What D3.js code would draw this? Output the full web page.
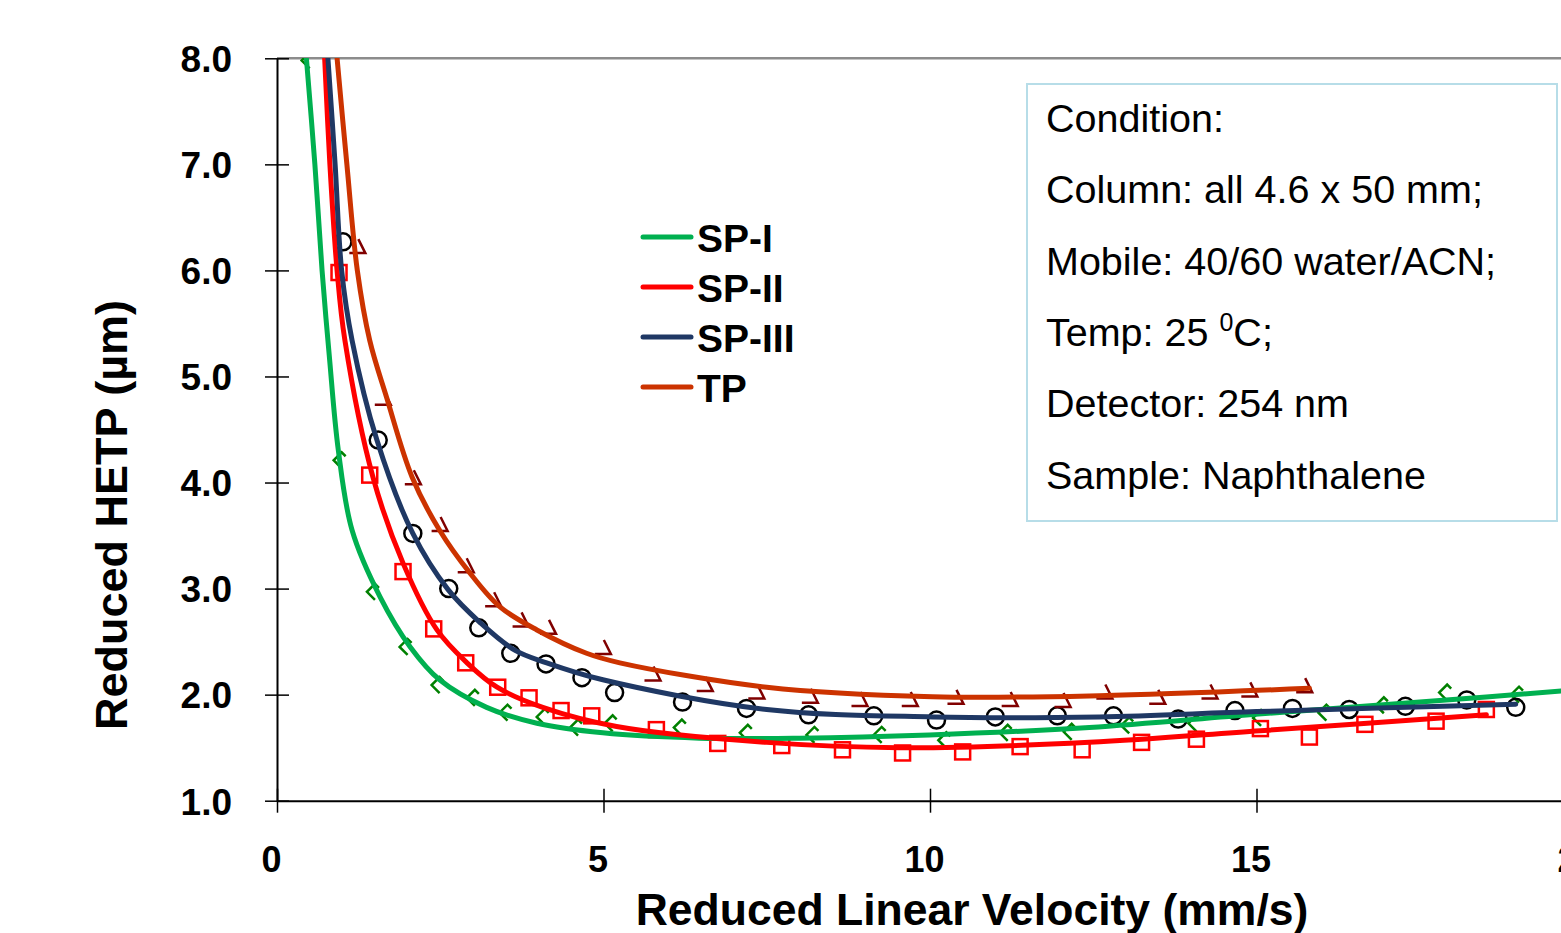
<!DOCTYPE html>
<html>
<head>
<meta charset="utf-8">
<script src="https://cdn.jsdelivr.net/npm/d3@7"></script>
<style>
  body { margin: 0; background: #fff; }
  text { font-family: "Liberation Sans", Arial, sans-serif; }
</style>
</head>
<body>
<div id="chart"></div>
<script>
// measured points [velocity, HETP]
const sp1Points = [[0.50,7.98],[0.99,4.21],[1.50,2.97],[2.00,2.45],[2.49,2.09],[3.03,1.97],[3.53,1.83],[4.10,1.79],[4.61,1.69],[5.14,1.73],[6.20,1.69],[7.21,1.64],[8.23,1.62],[9.26,1.62],[10.25,1.57],[11.19,1.64],[12.17,1.65],[13.05,1.71],[14.08,1.73],[15.07,1.78],[16.07,1.83],[16.95,1.90],[17.92,2.02],[19.02,2.00]];
const sp2Points = [[0.95,5.98],[1.42,4.07],[1.93,3.16],[2.40,2.62],[2.89,2.30],[3.38,2.07],[3.86,1.97],[4.35,1.85],[4.82,1.80],[5.81,1.67],[6.75,1.54],[7.73,1.52],[8.66,1.48],[9.58,1.45],[10.50,1.46],[11.38,1.51],[12.33,1.48],[13.24,1.55],[14.08,1.58],[15.06,1.68],[15.81,1.60],[16.66,1.72],[17.75,1.75],[18.52,1.86]];
const sp3Points = [[1.01,6.27],[1.55,4.40],[2.08,3.52],[2.63,3.00],[3.09,2.63],[3.58,2.39],[4.12,2.29],[4.67,2.16],[5.17,2.02],[6.21,1.93],[7.19,1.87],[8.14,1.81],[9.14,1.80],[10.10,1.76],[11.00,1.79],[11.95,1.80],[12.81,1.80],[13.80,1.77],[14.67,1.85],[15.55,1.87],[16.42,1.86],[17.28,1.89],[18.22,1.95],[18.97,1.88]];
const tpPoints = [[1.23,6.22],[1.62,4.79],[2.08,4.04],[2.49,3.60],[2.89,3.21],[3.31,2.89],[3.73,2.70],[4.15,2.63],[4.99,2.44],[5.75,2.19],[6.55,2.09],[7.34,2.02],[8.16,1.98],[8.92,1.95],[9.69,1.95],[10.39,1.97],[11.22,1.95],[12.03,1.94],[12.67,2.02],[13.48,1.97],[14.28,2.02],[14.89,2.04],[15.73,2.08]];

// fitted curves
const sp1Fit = [[0.45,8.0],[0.58,7.0],[0.69,6.0],[0.80,5.2],[0.94,4.3],[1.15,3.55],[1.58,2.92],[2.04,2.45],[2.49,2.14],[3.21,1.88],[3.98,1.73],[4.99,1.64],[6.47,1.59],[8.0,1.59],[9.99,1.62],[12.44,1.69],[14.98,1.815],[17.5,1.93],[20.0,2.05]];
const sp2Fit = [[0.73,8.0],[0.81,7.0],[0.92,6.0],[1.04,5.34],[1.47,4.05],[1.93,3.24],[2.45,2.61],[2.91,2.30],[3.37,2.07],[4.07,1.88],[5.20,1.70],[7.50,1.55],[9.53,1.50],[12.44,1.55],[15.06,1.66],[18.52,1.81]];
const sp3Fit = [[0.78,8.0],[0.89,7.0],[0.99,6.0],[1.15,5.34],[1.53,4.40],[2.08,3.52],[2.62,2.99],[3.11,2.68],[3.64,2.42],[4.13,2.30],[4.99,2.14],[7.50,1.86],[10.04,1.79],[12.59,1.79],[15.0,1.84],[18.97,1.91]];
const tpFit = [[0.92,8.0],[1.07,7.0],[1.23,6.0],[1.42,5.34],[1.68,4.80],[2.07,4.05],[2.49,3.55],[2.95,3.15],[3.41,2.83],[3.98,2.61],[4.74,2.39],[5.25,2.30],[7.50,2.07],[10.04,1.98],[12.59,1.99],[15.81,2.06]];

const seriesNames = ['SP-I', 'SP-II', 'SP-III', 'TP'];
const xTicks = [0, 5, 10, 15, 20];
const yTicks = [1, 2, 3, 4, 5, 6, 7, 8];
const conditionLines = ['Condition:', 'Column: all 4.6 x 50 mm;', 'Mobile: 40/60 water/ACN;', 'Temp: 25 ', 'Detector: 254 nm', 'Sample: Naphthalene'];

const width = 1561, height = 933;
const lineColors = ['#00b050', '#ff0000', '#1f3864', '#cc3300'];
const markColors = ['#008000', '#ff0000', '#000000', '#800000'];

const x = d3.scaleLinear().domain([0, 20]).range([277, 1583]);
const y = d3.scaleLinear().domain([1, 8]).range([800.7, 58.3]);

const svg = d3.select('#chart').append('svg')
  .attr('width', width).attr('height', height);

svg.append('defs').append('clipPath').attr('id', 'plot')
  .append('rect').attr('x', 277).attr('y', 58).attr('width', 1400).attr('height', 745);

// top border of plot area
svg.append('line')
  .attr('x1', 277).attr('x2', width).attr('y1', y(8)).attr('y2', y(8))
  .attr('stroke', '#8c8c8c').attr('stroke-width', 2.5);

// markers
const plot = svg.append('g').attr('clip-path', 'url(#plot)');

plot.selectAll('.m0').data(sp1Points).enter().append('path')
  .attr('transform', d => `translate(${x(d[0])},${y(d[1])})`)
  .attr('d', 'M4,-4L0,-8L-8,0L0,8')
  .attr('fill', 'none').attr('stroke', markColors[0]).attr('stroke-width', 2.5);

plot.selectAll('.m1').data(sp2Points).enter().append('rect')
  .attr('x', d => x(d[0]) - 7.5).attr('y', d => y(d[1]) - 7.5)
  .attr('width', 15).attr('height', 15)
  .attr('fill', 'none').attr('stroke', markColors[1]).attr('stroke-width', 2.5);

plot.selectAll('.m2').data(sp3Points).enter().append('circle')
  .attr('cx', d => x(d[0])).attr('cy', d => y(d[1])).attr('r', 8.5)
  .attr('fill', 'none').attr('stroke', markColors[2]).attr('stroke-width', 2.5);

plot.selectAll('.m3').data(tpPoints).enter().append('path')
  .attr('transform', d => `translate(${x(d[0])},${y(d[1])})`)
  .attr('d', 'M1,-8L8,6L-8,6')
  .attr('fill', 'none').attr('stroke', markColors[3]).attr('stroke-width', 2.5);

// fitted curves
const line = d3.line().x(d => x(d[0])).y(d => y(d[1])).curve(d3.curveCatmullRom.alpha(0.5));
[sp1Fit, sp2Fit, sp3Fit, tpFit].forEach((fit, i) => {
  plot.append('path').datum(fit)
    .attr('d', line)
    .attr('fill', 'none')
    .attr('stroke', lineColors[i])
    .attr('stroke-width', 5)
    .attr('stroke-linecap', 'round');
});

// axes
const yAxis = svg.append('g').attr('transform', 'translate(277,0)')
  .call(d3.axisLeft(y).tickValues(yTicks).tickFormat(d3.format('.1f'))
    .tickSize(12).tickSizeOuter(0).tickPadding(33));
yAxis.selectAll('.tick line').attr('x1', 12).attr('stroke', '#000').attr('stroke-width', 1.5);
yAxis.select('.domain').attr('stroke', '#000').attr('stroke-width', 2);
yAxis.selectAll('text').attr('font-size', 37).attr('font-weight', 'bold').attr('dy', '0.36em')
  .attr('font-family', '"Liberation Sans", Arial, sans-serif');

const xAxis = svg.append('g').attr('transform', `translate(0,${y(1)})`)
  .call(d3.axisBottom(x).tickValues(xTicks).tickSize(12).tickSizeOuter(0).tickPadding(34));
xAxis.selectAll('.tick line').attr('y1', -12).attr('stroke', '#000').attr('stroke-width', 1.5);
xAxis.select('.domain').attr('stroke', '#000').attr('stroke-width', 2);
xAxis.selectAll('text').attr('font-size', 36).attr('font-weight', 'bold').attr('dx', -6)
  .attr('font-family', '"Liberation Sans", Arial, sans-serif');

// axis titles
svg.append('text')
  .attr('x', 972).attr('y', 925)
  .attr('text-anchor', 'middle').attr('font-size', 44.5).attr('font-weight', 'bold')
  .text('Reduced Linear Velocity (mm/s)');

svg.append('text')
  .attr('transform', 'translate(127,515) rotate(-90)')
  .attr('text-anchor', 'middle').attr('font-size', 45).attr('font-weight', 'bold')
  .text('Reduced HETP (\u00b5m)');

// legend
const legend = svg.append('g');
seriesNames.forEach((name, i) => {
  const ly = 237 + i * 50;
  legend.append('line')
    .attr('x1', 643).attr('x2', 691).attr('y1', ly).attr('y2', ly)
    .attr('stroke', lineColors[i]).attr('stroke-width', 5).attr('stroke-linecap', 'round');
  legend.append('text')
    .attr('x', 697).attr('y', ly + 15)
    .attr('font-size', 39).attr('font-weight', 'bold')
    .text(name);
});

// condition box
svg.append('rect')
  .attr('x', 1027).attr('y', 84).attr('width', 530).attr('height', 437)
  .attr('fill', '#fff').attr('stroke', '#b7dde8').attr('stroke-width', 2);

conditionLines.forEach((t, i) => {
  const txt = svg.append('text')
    .attr('x', 1046).attr('y', 132 + i * 71.3)
    .attr('font-size', 39.5).text(t);
  if (t.startsWith('Temp')) {
    txt.append('tspan').attr('font-size', 25).attr('dy', -15).text('0');
    txt.append('tspan').attr('dy', 15).text('C;');
  }
});
</script>
</body>
</html>
